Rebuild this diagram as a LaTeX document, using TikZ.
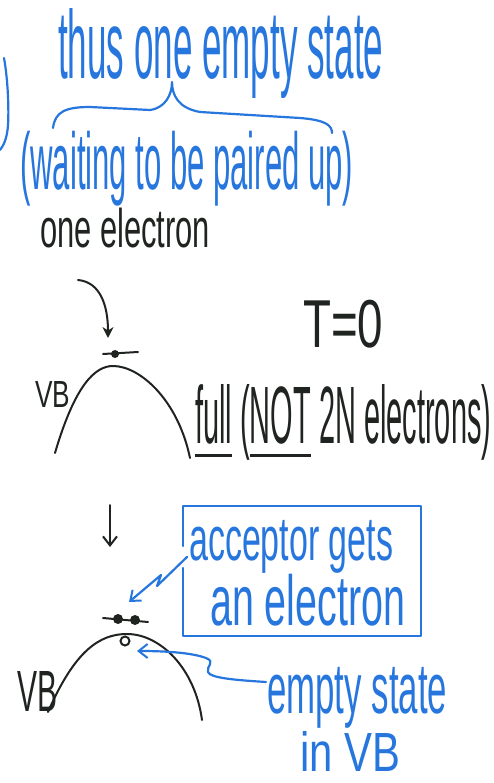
\documentclass[tikz,border=0pt]{standalone}
\usepackage{fontspec}
\setmainfont{Liberation Sans}
\usepackage{graphicx}
\usetikzlibrary{arrows.meta,calc}
\definecolor{inkblue}{RGB}{38,118,222}
\definecolor{inkblack}{RGB}{32,36,32}
\newcommand{\handtxt}[3]{\resizebox*{#1pt}{#2pt}{#3}}
\begin{document}
\begin{tikzpicture}[x=1pt,y=-1pt,
  hand/.style={inner sep=0pt,anchor=north west},
  bl/.style={inkblue,line width=2.2pt,line cap=round,line join=round},
  bk/.style={inkblack,line width=2pt,line cap=round,line join=round},
  barb/.style={-{Straight Barb[length=9pt,width=14pt,line width=2pt]}},
  dotn/.style={circle,fill=inkblack,inner sep=0pt,minimum size=8pt}]
\useasboundingbox (0,0) rectangle (494,783);
% top left bracket
\draw[bl] (4,58) .. controls (8,80) and (9,110) .. (8,125) .. controls (7,140) and (3,146) .. (0,150);
% texts blue top
\node[hand,text=inkblue] (thus) at (58,8) {\handtxt{325}{90}{thus one empty state}};
\draw[bl] (53,128) .. controls (55,112) and (65,107) .. (90,107) -- (150,110)
  .. controls (165,108) and (172,95) .. (172,82)
  .. controls (172,95) and (178,108) .. (200,112) -- (300,118)
  .. controls (325,120) and (332,125) .. (332,133);
\node[hand,text=inkblue] (wait) at (20,131) {\handtxt{333}{75}{(waiting to be paired up)}};
% black text
\node[hand,text=inkblack] (oneel) at (40,208) {\handtxt{170}{40}{one electron}};
\coordinate (ca1) at (78,280);
\coordinate (ca2) at (108,338);
\draw[bk,-{Stealth[length=11pt,width=11pt]}] (ca1) .. controls (100,282) and (108,305) .. (ca2);
% first band
\draw[bk] (103,354) -- (138,352);
\node[dotn] (e1) at (115,354) {};
\draw[bk] (55,453) .. controls (75,385) and (95,366) .. (113,366) .. controls (140,366) and (178,400) .. (190,458);
\node[hand,text=inkblack] (vb1) at (35,381) {\handtxt{35}{26}{VB}};
\node[hand,text=inkblack] (t0) at (303,300) {\handtxt{80}{48}{T=0}};
\node[hand,text=inkblack] (full) at (195,384) {\handtxt{296}{76}{\underline{full} (\underline{NOT} 2N electrons)}};
% down arrow
\coordinate (da1) at (110,505);
\coordinate (da2) at (110,547);
\draw[bk,barb] (da1) -- (da2);
% box
\node[hand,text=inkblue] (acc) at (189,520) {\handtxt{204}{53}{acceptor gets}};
\node[hand,text=inkblue] (anel) at (210,574) {\handtxt{195}{52}{an electron}};
\coordinate (bxa) at (183,506);
\coordinate (bxb) at (421,636);
\draw[bl] (183,546) -- (bxa) -- (bxb |- bxa) -- (bxb) -- (bxa |- bxb) -- (183,568);
% arrow to electrons
\coordinate (ba1) at (187,557);
\coordinate (ba2) at (129,602);
\draw[bl,barb] (ba1) -- (157,586) -- (161,575) -- (ba2);
% second band
\draw[bk] (103,618) -- (148,622);
\node[dotn,minimum width=9pt,minimum height=10pt] (e2) at (118,619) {};
\node[dotn,minimum width=9pt,minimum height=10pt] (e3) at (135,620) {};
\draw[bk] (48,712) .. controls (75,650) and (100,634) .. (127,634) .. controls (160,634) and (195,668) .. (202,720);
\node[circle,draw=inkblack,line width=2pt,fill=white,inner sep=0pt,minimum size=9pt] (hole) at (125,641) {};
\node[hand,text=inkblack] (vb2) at (17,671) {\handtxt{40}{40}{VB}};
% empty state
\node[hand,text=inkblue] (es) at (267,667) {\handtxt{180}{61}{empty state}};
\node[hand,text=inkblue] (invb) at (300,731) {\handtxt{100}{40}{in VB}};
\coordinate (bb1) at (266,682);
\coordinate (bb2) at (137,651);
\draw[bl,barb] (bb1) .. controls (235,680) and (210,678) .. (208,672) .. controls (206,666) and (216,662) .. (206,658) .. controls (190,652) and (160,651) .. (bb2);
\end{tikzpicture}
\end{document}
